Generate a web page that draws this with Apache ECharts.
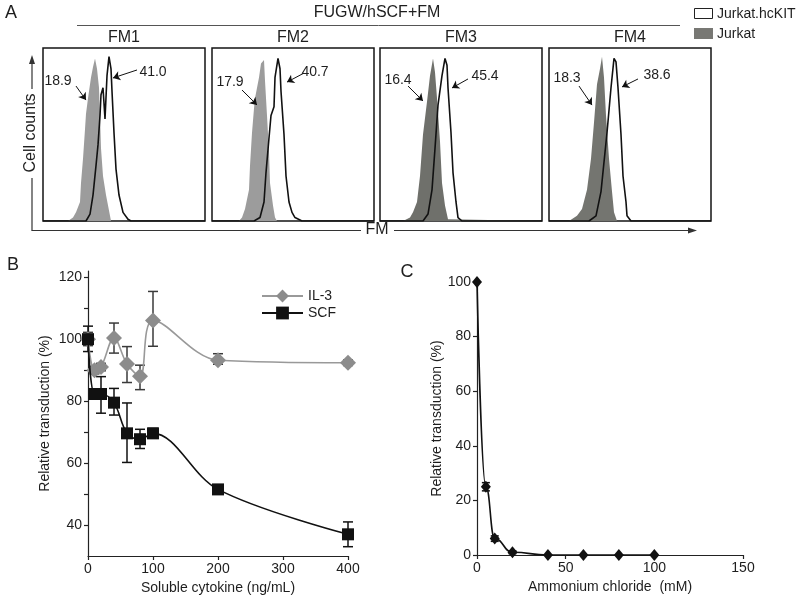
<!DOCTYPE html>
<html>
<head>
<meta charset="utf-8">
<script src="https://cdn.jsdelivr.net/npm/echarts@6/dist/echarts.min.js"></script>
<style>html,body{margin:0;padding:0;background:#fff}#c{width:800px;height:600px}</style>
</head>
<body>
<div id="c"></div>
<script>
// ---------- DATA ----------
// Panel A: flow-cytometry histograms (x: FM channel position, y: % of max cell count)
const fmPanels = ['FM1', 'FM2', 'FM3', 'FM4'];
const jurkatPct = ['18.9', '17.9', '16.4', '18.3'];
const kitPct = ['41.0', '40.7', '45.4', '38.6'];

const fm1Jurkat = [[0,0],[17,0],[18,1],[19,0],[25,0],[30,2],[33,5],[37,11],[38,22],[40,36],[42,53],[43,62],[45,71],[48,83],[50,89],[52,94],[54,88],[56,77],[57,61],[58,42],[60,26],[63,15],[67,3],[68,0],[162,0]];
const fm1Kit = [[0,0],[43,0],[47,4],[50,15],[53,32],[55,44],[57,61],[58,73],[60,77],[62,59],[64,84],[66,95],[68,88],[69,75],[71,51],[73,30],[76,15],[80,5],[85,1],[88,0],[100,0],[101,1],[102,0],[162,0]];
const fm2Jurkat = [[0,0],[27,0],[30,2],[33,7],[37,18],[38,32],[40,51],[42,65],[43,71],[47,83],[49,91],[52,93],[53,81],[55,61],[57,40],[58,22],[61,9],[63,2],[65,0],[162,0]];
const fm2Kit = [[0,0],[42,0],[48,2],[52,11],[54,28],[57,48],[59,61],[62,66],[63,83],[66,94],[68,88],[69,75],[72,50],[74,26],[77,11],[80,5],[83,2],[90,0],[146,0],[147,1],[148,0],[162,0]];
const fm3Jurkat = [[0,0],[23,0],[30,2],[33,5],[37,11],[40,26],[43,50],[47,69],[50,84],[53,94],[55,86],[57,71],[60,46],[62,22],[65,9],[68,1],[70,0],[162,0]];
const fm3Kit = [[0,0],[43,0],[48,4],[52,18],[55,42],[58,67],[62,84],[65,94],[67,90],[68,77],[71,51],[73,28],[76,11],[78,2],[82,0],[162,0]];
const fm4Jurkat = [[0,0],[20,0],[28,3],[33,7],[38,18],[42,36],[45,57],[48,79],[51,88],[53,95],[55,83],[57,61],[60,36],[63,17],[65,5],[68,0],[162,0]];
const fm4Kit = [[0,0],[40,0],[47,3],[52,17],[55,34],[58,51],[62,77],[65,94],[67,92],[69,77],[72,50],[74,26],[77,11],[78,3],[82,0],[110,0],[111,1],[112,0],[162,0]];

// Panel B: soluble cytokine competition
const cytokineDose = [0, 10, 20, 40, 60, 80, 100, 200, 400];
const il3 = [100, 90, 91, 100.4, 92, 88, 106, 93.2, 92.4];
const il3Low = [97.9, 88.8, 89.8, 95.5, 86, 83.7, 97.7, 91.9, 91.5];
const il3High = [102.2, 91.2, 92.2, 105.2, 97.6, 91.6, 115.4, 95.3, 93.3];
const scf = [100, 82.3, 82.3, 79.5, 69.6, 67.7, 69.6, 51.5, 37];
const scfLow = [96, 81.5, 76.1, 75.5, 60.2, 64.7, 68, 50.2, 33];
const scfHigh = [104.2, 83.1, 87.9, 84.1, 79.4, 70.9, 71.2, 52.9, 41];

// Panel C: ammonium chloride
const nh4clDose = [0, 5, 10, 20, 40, 60, 80, 100];
const nh4clTrans = [100, 25, 6, 1, 0, 0, 0, 0];
const nh4clLow = [100, 23.5, 5, 0.5, 0, 0, 0, 0];
const nh4clHigh = [100, 26.5, 7, 1.5, 0, 0, 0, 0];

// ---------- LAYOUT / STYLE ----------
const FONT = 'Liberation Sans, Arial, Helvetica, sans-serif';
const TXT = '#1e1e1e';
const boxLeft = [43, 212, 380, 549];
const grayFill = ['#9c9c9c', '#9c9c9c', '#6f706b', '#747570'];
const jurkatHist = [fm1Jurkat, fm2Jurkat, fm3Jurkat, fm4Jurkat];
const kitHist = [fm1Kit, fm2Kit, fm3Kit, fm4Kit];
// annotation placement in each histogram's own coordinates
const annot = [
  {jl:[15,80.9], ja:[[33,78],[43,69.9]], kl:[110,86.1], ka:[[94,87.3],[70,82.7]]},
  {jl:[18,80.3], ja:[[30,75.7],[45,67.1]], kl:[103,86.1], ka:[[92,85.5],[75,80.3]]},
  {jl:[18,81.5], ja:[[28,78],[43,69.4]], kl:[105,83.8], ka:[[88,82.1],[72,76.9]]},
  {jl:[18,82.7], ja:[[30,78],[43,67]], kl:[108,84.4], ka:[[89,82.1],[73,77.5]]}
];

const zip3 = (a, b, c) => a.map((v, i) => [v, b[i], c[i]]);
const zip2 = (a, b) => a.map((v, i) => [v, b[i]]);

function errBar(color, capHalf) {
  return function (params, api) {
    const x = api.value(0), lo = api.value(1), hi = api.value(2);
    if (hi - lo <= 0) return null;
    const p1 = api.coord([x, lo]), p2 = api.coord([x, hi]);
    const st = {stroke: color, lineWidth: 1.5};
    return {type: 'group', children: [
      {type: 'line', shape: {x1: p1[0], y1: p1[1], x2: p2[0], y2: p2[1]}, style: st},
      {type: 'line', shape: {x1: p1[0]-capHalf, y1: p1[1], x2: p1[0]+capHalf, y2: p1[1]}, style: st},
      {type: 'line', shape: {x1: p2[0]-capHalf, y1: p2[1], x2: p2[0]+capHalf, y2: p2[1]}, style: st}
    ]};
  };
}

const grids = boxLeft.map(l => ({left: l, top: 48, width: 162, height: 173, show: true,
  borderColor: '#151515', borderWidth: 1.5, backgroundColor: 'transparent'}));
grids.push({left: 88, top: 271, width: 260, height: 285});
grids.push({left: 477, top: 282, width: 266, height: 273});

const xAxes = boxLeft.map((l, i) => ({gridIndex: i, type: 'value', min: 0, max: 162, show: false}));
const yAxes = boxLeft.map((l, i) => ({gridIndex: i, type: 'value', min: 0, max: 100, show: false}));

const axLine = {lineStyle: {color: '#222', width: 1.2}};
const axLabel = {fontSize: 14, color: TXT, fontFamily: FONT};
const nameStyle = {fontSize: 14, color: TXT, fontFamily: FONT};

xAxes.push({gridIndex: 4, type: 'value', min: 0, max: 400, interval: 100,
  axisLine: {show: true, onZero: false, lineStyle: axLine.lineStyle},
  axisTick: {show: true, length: 4, lineStyle: axLine.lineStyle},
  axisLabel: Object.assign({margin: 6}, axLabel), splitLine: {show: false},
  name: 'Soluble cytokine (ng/mL)', nameLocation: 'middle', nameGap: 25, nameTextStyle: nameStyle});
yAxes.push({gridIndex: 4, type: 'value', min: 30, max: 122,
  axisLine: {show: true, onZero: false, lineStyle: axLine.lineStyle},
  axisTick: {show: true, length: 4, lineStyle: axLine.lineStyle, customValues: [40,50,60,70,80,90,100,110,120]},
  axisLabel: Object.assign({margin: 6, customValues: [40,60,80,100,120]}, axLabel), splitLine: {show: false},
  name: 'Relative transduction (%)', nameLocation: 'middle', nameGap: 36, nameTextStyle: nameStyle});

xAxes.push({gridIndex: 5, type: 'value', min: 0, max: 150, interval: 50,
  axisLine: {show: true, onZero: false, lineStyle: axLine.lineStyle},
  axisTick: {show: true, length: 4, lineStyle: axLine.lineStyle},
  axisLabel: Object.assign({margin: 6}, axLabel), splitLine: {show: false},
  name: 'Ammonium chloride  (mM)', nameLocation: 'middle', nameGap: 25, nameTextStyle: nameStyle});
yAxes.push({gridIndex: 5, type: 'value', min: 0, max: 100, interval: 20,
  axisLine: {show: true, onZero: false, lineStyle: axLine.lineStyle},
  axisTick: {show: true, length: 4, lineStyle: axLine.lineStyle},
  axisLabel: Object.assign({margin: 6}, axLabel), splitLine: {show: false},
  name: 'Relative transduction (%)', nameLocation: 'middle', nameGap: 32, nameTextStyle: nameStyle});

const series = [];
fmPanels.forEach((p, i) => {
  const a = annot[i];
  series.push({name: 'Jurkat', type: 'line', xAxisIndex: i, yAxisIndex: i, data: jurkatHist[i],
    symbol: 'none', lineStyle: {width: 0}, itemStyle: {color: grayFill[i]},
    areaStyle: {color: grayFill[i], opacity: 1}, z: 1, silent: true});
  series.push({name: 'Jurkat.hcKIT', type: 'line', xAxisIndex: i, yAxisIndex: i, data: kitHist[i],
    symbol: 'none', lineStyle: {color: '#111', width: 1.6}, itemStyle: {color: '#111'}, z: 3, silent: true,
    markLine: {silent: true, symbol: ['none', 'arrow'], symbolSize: 7, animation: false,
      lineStyle: {color: '#111', width: 1, type: 'solid'}, label: {show: false},
      data: [[{coord: a.ja[0]}, {coord: a.ja[1]}], [{coord: a.ka[0]}, {coord: a.ka[1]}]]},
    markPoint: {silent: true, symbol: 'circle', symbolSize: 1, itemStyle: {color: 'rgba(0,0,0,0)'},
      label: {show: true, position: 'inside', formatter: '{b}', fontSize: 14, color: TXT, fontFamily: FONT},
      data: [{name: jurkatPct[i], coord: a.jl}, {name: kitPct[i], coord: a.kl}]}
  });
});

series.push({name: 'IL-3 err', type: 'custom', xAxisIndex: 4, yAxisIndex: 4,
  data: zip3(cytokineDose, il3Low, il3High), encode: {x: 0, y: [1, 2]},
  renderItem: errBar('#3a3a3a', 5), z: 2, silent: true});
series.push({name: 'SCF err', type: 'custom', xAxisIndex: 4, yAxisIndex: 4,
  data: zip3(cytokineDose, scfLow, scfHigh), encode: {x: 0, y: [1, 2]},
  renderItem: errBar('#111', 5), z: 2, silent: true});
series.push({name: 'IL-3', type: 'line', xAxisIndex: 4, yAxisIndex: 4, data: zip2(cytokineDose, il3),
  smooth: 0.35, symbol: 'diamond', symbolSize: 16, showAllSymbol: true,
  lineStyle: {color: '#999', width: 1.6}, itemStyle: {color: '#8c8c8c'}, z: 4, silent: true});
series.push({name: 'SCF', type: 'line', xAxisIndex: 4, yAxisIndex: 4, data: zip2(cytokineDose, scf),
  smooth: 0.35, symbol: 'rect', symbolSize: 12, showAllSymbol: true,
  lineStyle: {color: '#111', width: 1.6}, itemStyle: {color: '#111'}, z: 5, silent: true});

series.push({name: 'NH4Cl err', type: 'custom', xAxisIndex: 5, yAxisIndex: 5,
  data: zip3(nh4clDose, nh4clLow, nh4clHigh), encode: {x: 0, y: [1, 2]},
  renderItem: errBar('#111', 4), z: 2, silent: true});
series.push({name: 'NH4Cl', type: 'line', xAxisIndex: 5, yAxisIndex: 5, data: zip2(nh4clDose, nh4clTrans),
  smooth: 0.5, smoothMonotone: 'x', symbol: 'diamond', symbolSize: [10, 12], showAllSymbol: true,
  lineStyle: {color: '#111', width: 1.6}, itemStyle: {color: '#111'}, z: 4, silent: true});

function txt(text, x, y, size, extra) {
  return Object.assign({type: 'text', x: x, y: y, silent: true,
    style: {text: text, fontSize: size, fontFamily: FONT, fill: TXT,
      align: 'center', verticalAlign: 'middle', textAlign: 'center', textVerticalAlign: 'middle'}}, extra || {});
}
function ltxt(text, x, y, size) {
  return {type: 'text', x: x, y: y, silent: true,
    style: {text: text, fontSize: size, fontFamily: FONT, fill: TXT,
      align: 'left', verticalAlign: 'middle', textAlign: 'left', textVerticalAlign: 'middle'}};
}
const ln = (x1, y1, x2, y2, c, w) => ({type: 'line', silent: true,
  shape: {x1: x1, y1: y1, x2: x2, y2: y2}, style: {stroke: c || '#333', lineWidth: w || 1}});

const graphics = [
  txt('A', 11, 13, 18), txt('B', 13, 265, 18), txt('C', 407, 272, 18),
  txt('FUGW/hSCF+FM', 377, 13, 16),
  ln(77, 25.5, 680, 25.5, '#555', 1),
  // Cell counts axis (vertical arrow)
  ln(32, 230.5, 32, 178, '#333', 1.2), ln(32, 89, 32, 62, '#333', 1.2),
  {type: 'polygon', silent: true, shape: {points: [[32, 55], [29, 64], [35, 64]]}, style: {fill: '#333'}},
  txt('Cell counts', 31, 133, 16, {rotation: Math.PI / 2}),
  // FM axis (horizontal arrow)
  ln(31.5, 230.5, 361, 230.5, '#333', 1.2), ln(394, 230.5, 688, 230.5, '#333', 1.2),
  {type: 'polygon', silent: true, shape: {points: [[697, 230.5], [688, 227.5], [688, 233.5]]}, style: {fill: '#333'}},
  txt('FM', 377, 230, 16),
  // legend of panel A
  {type: 'rect', silent: true, shape: {x: 694.5, y: 8.5, width: 18, height: 10}, style: {fill: '#fff', stroke: '#222', lineWidth: 1}},
  ltxt('Jurkat.hcKIT', 717, 14, 14),
  {type: 'rect', silent: true, shape: {x: 694, y: 28, width: 19, height: 11}, style: {fill: '#787874'}},
  ltxt('Jurkat', 717, 34, 14)
];
fmPanels.forEach((p, i) => graphics.push(txt(p, boxLeft[i] + 81, 38, 16)));

const chart = echarts.init(document.getElementById('c'), null, {renderer: 'canvas'});
chart.setOption({
  animation: false,
  backgroundColor: '#fff',
  textStyle: {fontFamily: FONT},
  grid: grids,
  xAxis: xAxes,
  yAxis: yAxes,
  legend: {data: ['IL-3', 'SCF'], left: 256, top: 284, orient: 'vertical', itemWidth: 41, itemHeight: 16,
    itemGap: 3, selectedMode: false, textStyle: {fontSize: 14, color: TXT, fontFamily: FONT}},
  series: series,
  graphic: graphics
});
</script>
</body>
</html>
